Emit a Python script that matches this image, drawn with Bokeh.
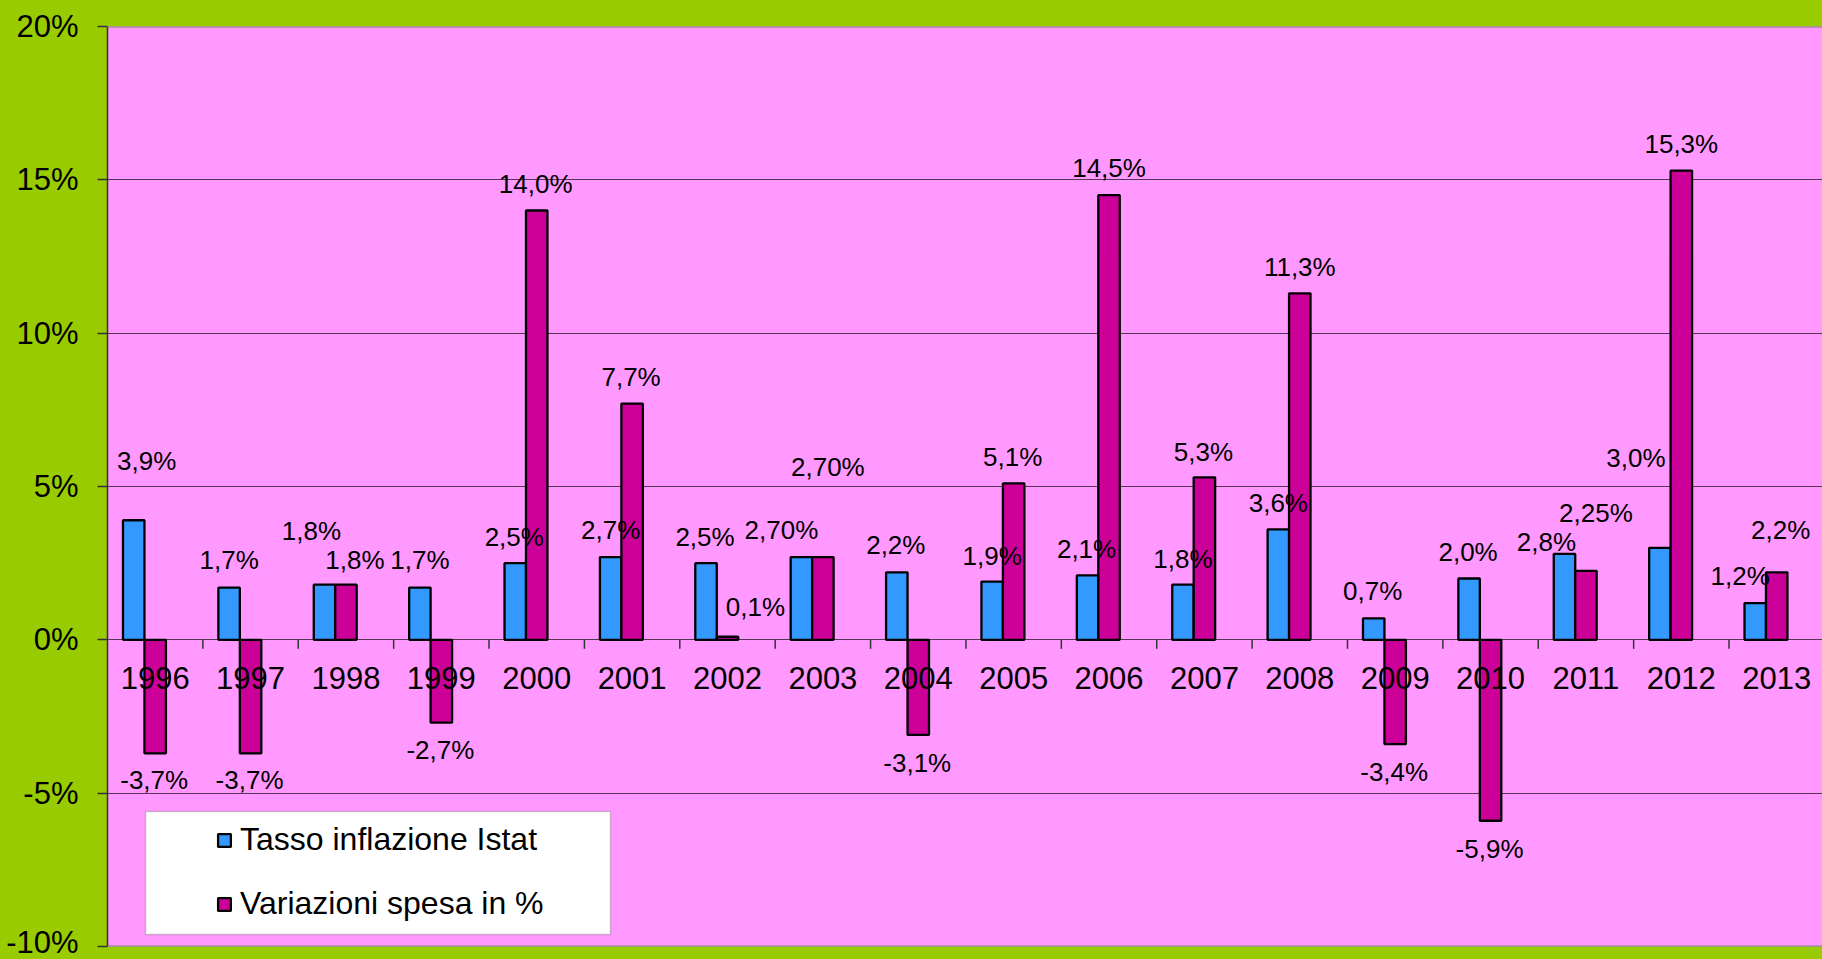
from bokeh.plotting import figure
from bokeh.models import (ColumnDataSource, FixedTicker, PrintfTickFormatter, Span,
                          BoxAnnotation, Legend, LegendItem, Range1d)
from bokeh.core.properties import value
from bokeh.embed import file_html
from bokeh.resources import INLINE

# ---------------- data ----------------
years = ["1996", "1997", "1998", "1999", "2000", "2001", "2002", "2003", "2004",
         "2005", "2006", "2007", "2008", "2009", "2010", "2011", "2012", "2013"]
inflazione = [3.9, 1.7, 1.8, 1.7, 2.5, 2.7, 2.5, 2.7, 2.2,
              1.9, 2.1, 1.8, 3.6, 0.7, 2.0, 2.8, 3.0, 1.2]
spesa = [-3.7, -3.7, 1.8, -2.7, 14.0, 7.7, 0.1, 2.7, -3.1,
         5.1, 14.5, 5.3, 11.3, -3.4, -5.9, 2.25, 15.3, 2.2]
inflazione_labels = ["3,9%", "1,7%", "1,8%", "1,7%", "2,5%", "2,7%", "2,5%", "2,70%", "2,2%",
                     "1,9%", "2,1%", "1,8%", "3,6%", "0,7%", "2,0%", "2,8%", "3,0%", "1,2%"]
spesa_labels = ["-3,7%", "-3,7%", "1,8%", "-2,7%", "14,0%", "7,7%", "0,1%", "2,70%", "-3,1%",
                "5,1%", "14,5%", "5,3%", "11,3%", "-3,4%", "-5,9%", "2,25%", "15,3%", "2,2%"]
y_ticks = [-10, -5, 0, 5, 10, 15, 20]
series_names = ["Tasso inflazione Istat", "Variazioni spesa in %"]

# label placement offsets (screen px, relative to bar end)
infl_dx = [13, 0, -13, 0, -1, 0, -1, -20, -1, 0, -1, 0, 0, -1, -1, -18, -24, -15]
infl_dy = [-59, -28, -54, -28, -26, -27, -26, -27, -27, -26, -26, -26, -26, -27, -27, -12, -90, -27]
spesa_dx = [-1, -1, 9, -1, -1, -1, 28, 5, -1, -1, 0, -1, 0, -1, -1, 10, 0, 4]
spesa_dy = [27, 27, -25, 27, -27, -27, -30, -90, 28, -26, -27, -25, -26, 28, 28, -58, -27, -42]

# ---------------- layout ----------------
W, H = 1822, 959
LEFT, TOP, BOTTOM = 107, 26, 13
X_END = 17.98
Y_MIN, Y_MAX = -10, 20
BAR_W = 0.225
FRAME_W = W - LEFT
FRAME_H = H - TOP - BOTTOM
PX_X = FRAME_W / X_END
PX_Y = FRAME_H / (Y_MAX - Y_MIN)

GREEN = "#99CC00"
PINK = "#FF99FF"
BLUE = "#3399FF"
MAGENTA = "#CC0099"
FONT = "Liberation Sans"

n = len(years)
centers = [i + 0.5 for i in range(n)]
src = ColumnDataSource(dict(
    xi=[c - BAR_W for c in centers], xs=centers,
    infl=inflazione, spesa=spesa,
    infl_lab=inflazione_labels, spesa_lab=spesa_labels,
    infl_dx=infl_dx, infl_dy=infl_dy, spesa_dx=spesa_dx, spesa_dy=spesa_dy,
    year=years,
))

p = figure(width=W, height=H, x_range=Range1d(0, X_END), y_range=Range1d(Y_MIN, Y_MAX),
           output_backend="svg", toolbar_location=None,
           x_axis_location=None, y_axis_location="left",
           min_border_left=LEFT, min_border_right=0,
           min_border_top=TOP, min_border_bottom=BOTTOM)
p.border_fill_color = GREEN
p.background_fill_color = PINK
p.outline_line_color = None

p.xgrid.visible = False
p.ygrid.ticker = FixedTicker(ticks=[-5, 0, 5, 10, 15])
p.ygrid.grid_line_color = "#2a1a2a"
p.ygrid.grid_line_alpha = 0.8
p.ygrid.grid_line_width = 1

yax = p.yaxis[0]
yax.ticker = FixedTicker(ticks=y_ticks)
yax.formatter = PrintfTickFormatter(format="%d%%")
yax.axis_line_color = "#333333"
yax.axis_line_width = 1.5
yax.major_tick_line_color = "#333333"
yax.major_tick_line_width = 1.5
yax.major_tick_out = 10
yax.major_tick_in = 0
yax.minor_tick_out = 0
yax.minor_tick_in = 0
yax.major_label_standoff = 19
yax.major_label_text_font = FONT
yax.major_label_text_font_size = "31px"
yax.major_label_text_color = "black"

# top / bottom frame edges
for loc in (Y_MAX, Y_MIN):
    p.add_layout(Span(location=loc, dimension="width", line_color="#808080", line_width=2))

# category boundary ticks on the zero line
bounds = list(range(1, n))
p.segment(x0=bounds, y0=[0] * len(bounds), x1=bounds, y1=[-9 / PX_Y] * len(bounds),
          line_color="#333333", line_width=1.5)

r1 = p.vbar(x="xi", top="infl", bottom=0, width=BAR_W, source=src,
            fill_color=BLUE, line_color="black", line_width=2.3)
r2 = p.vbar(x="xs", top="spesa", bottom=0, width=BAR_W, source=src,
            fill_color=MAGENTA, line_color="black", line_width=2.3)

p.text(x="xi", y="infl", text="infl_lab", x_offset="infl_dx", y_offset="infl_dy", source=src,
       text_font=value(FONT), text_font_size=value("26px"), text_color="black",
       text_align="center", text_baseline="middle")
p.text(x="xs", y="spesa", text="spesa_lab", x_offset="spesa_dx", y_offset="spesa_dy", source=src,
       text_font=value(FONT), text_font_size=value("26px"), text_color="black",
       text_align="center", text_baseline="middle")

# category labels next to the zero line
p.text(x="xs", y=0, text="year", y_offset=38.5, source=src,
       text_font=value(FONT), text_font_size=value("31px"), text_color="black",
       text_align="center", text_baseline="middle")

# legend box
bx0, bx1, by0, by1 = 38, 503, 785, 908   # px inside frame (from top-left)
p.add_layout(BoxAnnotation(left=bx0 / PX_X, right=bx1 / PX_X,
                           top=Y_MAX - by0 / PX_Y, bottom=Y_MAX - by1 / PX_Y,
                           fill_color="white", fill_alpha=1.0,
                           line_color="#555555", line_width=1.5, level="annotation"))

legend = Legend(items=[LegendItem(label=series_names[0], renderers=[r1]),
                       LegendItem(label=series_names[1], renderers=[r2])],
                location=(109, 24), orientation="vertical", padding=0, margin=0,
                spacing=27, glyph_width=16, glyph_height=16, label_standoff=8,
                label_text_font=FONT, label_text_font_size="32px",
                label_text_color="black", background_fill_alpha=0,
                border_line_color=None)
p.add_layout(legend)

html = file_html(p, INLINE, title="Inflazione e spesa")
html = html.replace("<head>", "<head><style>html,body{background:#99CC00;}</style>", 1)
open("out.html", "w").write(html)
